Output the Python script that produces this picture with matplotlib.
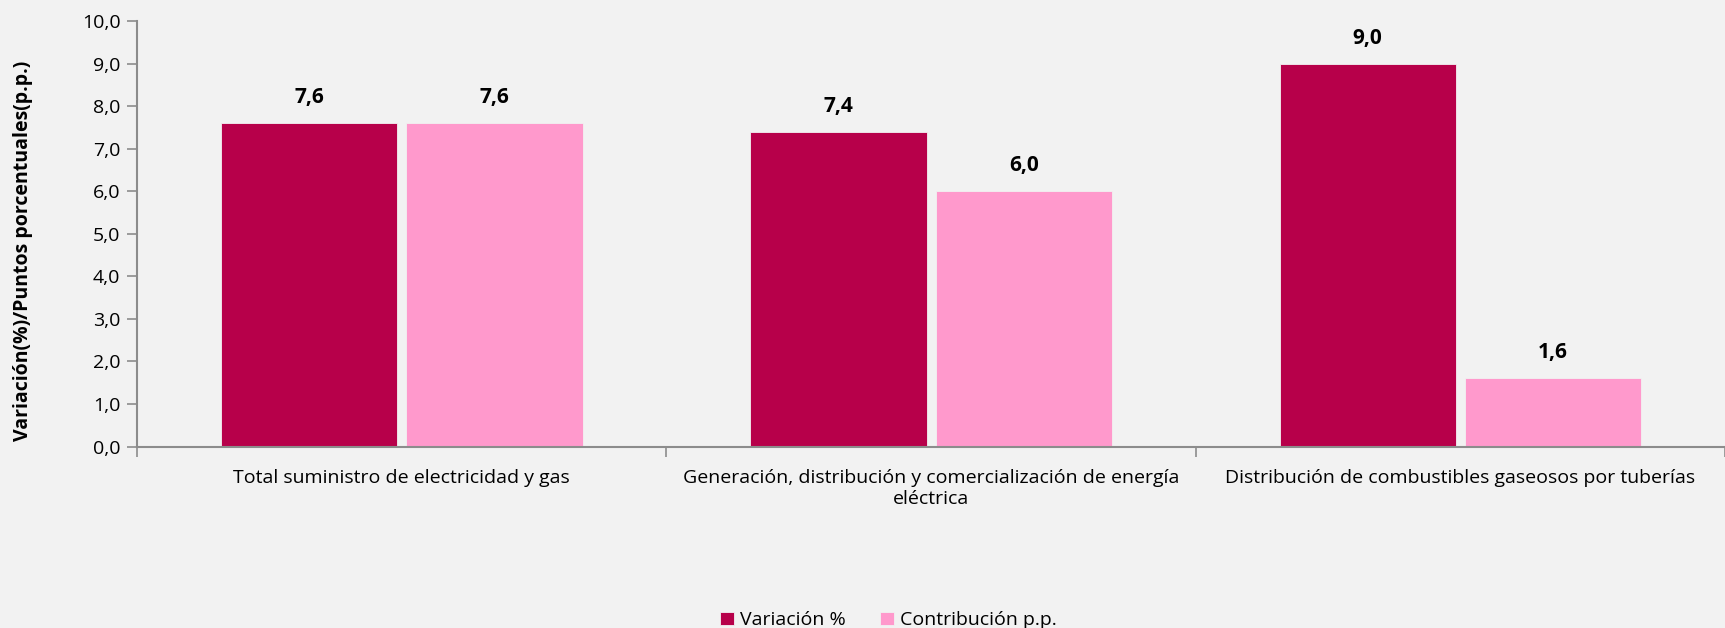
import matplotlib.pyplot as plt
import numpy as np

plt.rcParams['font.family'] = ['Open Sans', 'DejaVu Sans']

categorias = [
    "Total suministro de electricidad y gas",
    "Generación, distribución y comercialización de energía\neléctrica",
    "Distribución de combustibles gaseosos por tuberías",
]
variacion = [7.6, 7.4, 9.0]
contribucion = [7.6, 6.0, 1.6]
yticks = np.arange(0, 10.5, 1.0)

fondo = "#F2F2F2"
gris = "#8C8C8C"

fig = plt.figure(figsize=(17.25, 6.28), dpi=100, facecolor=fondo)
ax = fig.add_axes([0.0795, 0.289, 0.9205, 0.677])
ax.set_facecolor(fondo)

x = np.arange(len(categorias))
ancho = 0.333
b1 = ax.bar(x - 0.175, variacion, ancho, color="#B7004A", edgecolor="#F2F2F2",
            linewidth=0.6, label="Variación %")
b2 = ax.bar(x + 0.175, contribucion, ancho, color="#FF99CC", edgecolor="#F2F2F2",
            linewidth=0.6, label="Contribución p.p.")

for barras, vals in ((b1, variacion), (b2, contribucion)):
    for b, v in zip(barras, vals):
        ax.annotate(f"{v:.1f}".replace(".", ","),
                    (b.get_x() + b.get_width() / 2, v),
                    xytext=(0, 11), textcoords="offset points",
                    ha="center", va="bottom", fontsize=15, fontweight="bold")

ax.set_xlim(-0.5, len(categorias) - 0.5)
ax.set_ylim(0, 10)
ax.set_yticks(yticks)
ax.set_yticklabels([f"{t:.1f}".replace(".", ",") for t in yticks], fontsize=14)

# separadores de categoría en el eje x
ax.set_xticks(np.arange(len(categorias) + 1) - 0.5)
ax.set_xticklabels([])
ax.set_xticks(x, minor=True)
ax.set_xticklabels(categorias, minor=True, fontsize=14)
ax.tick_params(axis="x", which="minor", length=0, pad=16)
ax.tick_params(axis="x", which="major", length=7, color=gris, width=1.2)
ax.tick_params(axis="y", length=7, color=gris, width=1.2, pad=5)

for s in ("top", "right"):
    ax.spines[s].set_visible(False)
for s in ("left", "bottom"):
    ax.spines[s].set_color(gris)
    ax.spines[s].set_linewidth(1.5)

ax.set_ylabel("Variación(%)/Puntos porcentuales(p.p.)", fontsize=14,
              fontweight="bold")
ax.yaxis.set_label_coords(-0.0655, 0.46)

fig.legend(handles=[b1, b2], loc="lower center", bbox_to_anchor=(0.515, -0.03),
           ncol=2, frameon=False, fontsize=14, handlelength=0.7,
           handleheight=0.7, handletextpad=0.3, columnspacing=1.8)

fig.savefig("out.png", facecolor=fondo)
